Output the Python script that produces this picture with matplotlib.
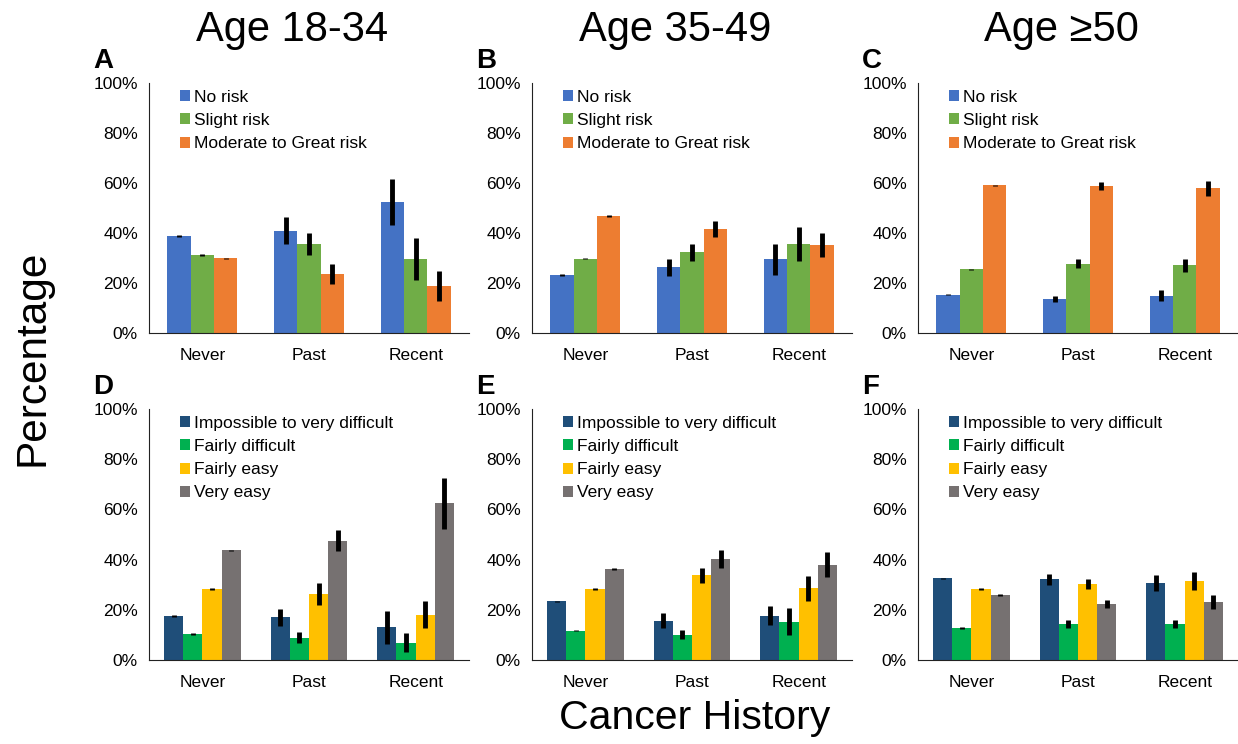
import numpy as np
import matplotlib
matplotlib.use("Agg")
import matplotlib.pyplot as plt
from matplotlib.ticker import PercentFormatter

plt.rcParams['font.family'] = ['Liberation Sans', 'DejaVu Sans']

categories = ["Never", "Past", "Recent"]
ages = ["Age 18-34", "Age 35-49", "Age \u226550"]

risk_labels = ["No risk", "Slight risk", "Moderate to Great risk"]
risk_colors = ["#4472C4", "#70AD47", "#ED7D31"]

# perceived risk, rows = risk level, cols = Never/Past/Recent
risk_a = [[38.8, 40.9, 52.3], [31.2, 35.5, 29.5], [29.8, 23.5, 18.8]]
risk_a_err = [[0.3, 5.5, 9.2], [0.3, 4.5, 8.3], [0.3, 4.0, 5.9]]
risk_b = [[23.1, 26.3, 29.5], [29.7, 32.2, 35.5], [46.9, 41.5, 35.1]]
risk_b_err = [[0.3, 3.4, 6.2], [0.3, 3.5, 6.7], [0.4, 3.3, 4.8]]
risk_c = [[15.2, 13.4, 14.9], [25.5, 27.7, 27.0], [59.0, 58.8, 57.8]]
risk_c_err = [[0.2, 1.2, 2.2], [0.2, 1.7, 2.7], [0.3, 1.7, 3.0]]

access_labels = ["Impossible to very difficult", "Fairly difficult", "Fairly easy", "Very easy"]
access_colors = ["#1F4E79", "#00B050", "#FFC000", "#767171"]

access_d = [[17.5, 17.0, 13.0], [10.4, 8.9, 6.9], [28.2, 26.4, 18.1], [43.7, 47.5, 62.4]]
access_d_err = [[0.3, 3.5, 6.6], [0.3, 2.3, 3.9], [0.4, 4.4, 5.3], [0.3, 4.2, 10.3]]
access_e = [[23.4, 15.7, 17.7], [11.7, 10.1, 15.3], [28.2, 33.7, 28.6], [36.3, 40.1, 38.0]]
access_e_err = [[0.2, 3.1, 3.9], [0.2, 1.9, 5.3], [0.4, 2.9, 5.0], [0.5, 3.6, 5.0]]
access_f = [[32.5, 32.2, 30.6], [12.7, 14.3, 14.3], [28.2, 30.2, 31.4], [25.7, 22.3, 23.2]]
access_f_err = [[0.2, 2.2, 3.3], [0.3, 1.6, 1.7], [0.4, 2.0, 3.6], [0.4, 1.7, 2.8]]

W, H = 1238, 744
fig = plt.figure(figsize=(W / 100, H / 100), dpi=100)


def panel(left, bottom, top, vals, errs, labels, colors, letter, bw):
    ax = fig.add_axes([left / W, 1 - bottom / H, 320 / W, (bottom - top) / H])
    n = len(vals)
    x = np.arange(len(categories))
    for i in range(n):
        off = (i - (n - 1) / 2) * bw
        ax.bar(x + off, vals[i], bw, color=colors[i], label=labels[i],
               yerr=errs[i], error_kw=dict(ecolor="black", elinewidth=3.5, capsize=0))
    ax.set_xlim(-0.5, 2.5)
    ax.set_ylim(0, 100)
    ax.set_yticks(np.arange(0, 101, 20))
    ax.yaxis.set_major_formatter(PercentFormatter(decimals=0))
    ax.set_xticks(x)
    ax.set_xticklabels(categories)
    ax.tick_params(length=0, labelsize=12.5, pad=8)
    ax.tick_params(axis='x', pad=11)
    for s in ["top", "right"]:
        ax.spines[s].set_visible(False)
    ax.spines["left"].set_color("#222222")
    ax.spines["bottom"].set_color("#222222")
    ax.legend(loc="upper left", bbox_to_anchor=(0.075, 1.0), frameon=False,
              fontsize=12.5, handlelength=0.6, handleheight=0.6,
              handletextpad=0.2, labelspacing=0.47, borderaxespad=0.0)
    ax.text(-0.175, 1.035, letter, transform=ax.transAxes, fontsize=20,
            fontweight="bold", ha="left", va="bottom")
    return ax


lefts = [149, 532, 918]
top_sets = [(risk_a, risk_a_err), (risk_b, risk_b_err), (risk_c, risk_c_err)]
bot_sets = [(access_d, access_d_err), (access_e, access_e_err), (access_f, access_f_err)]
for k in range(3):
    panel(lefts[k], 333, 83, top_sets[k][0], top_sets[k][1],
          risk_labels, risk_colors, "ABC"[k], 0.218)
    panel(lefts[k], 660, 409, bot_sets[k][0], bot_sets[k][1],
          access_labels, access_colors, "DEF"[k], 0.18)
    fig.text((lefts[k] + 143) / W, 1 - 30 / H, ages[k], fontsize=30,
             ha="center", va="center")

fig.text(33 / W, 1 - 358 / H, "Percentage", fontsize=30.5, rotation=90,
         ha="center", va="center")
fig.text(695 / W, 1 - 718 / H, "Cancer History", fontsize=29.5,
         ha="center", va="center")

fig.savefig("out.png", dpi=100)
